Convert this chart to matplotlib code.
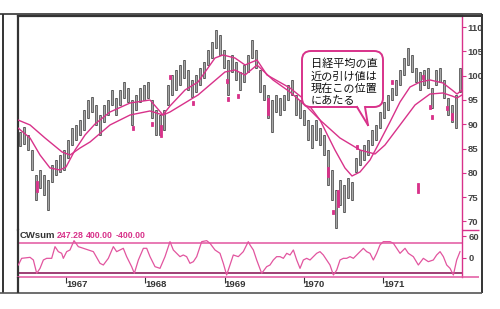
import numpy as np
import matplotlib
matplotlib.use("Agg")
import matplotlib.pyplot as plt
from matplotlib.patches import FancyBboxPatch, Polygon
from matplotlib.lines import Line2D

# ---------------- data ----------------
bar_lows = [85.5, 86.0, 84.7, 80.6, 74.4, 76.9, 75.5, 72.3, 78.1, 79.6,
            80.2, 80.6, 83.1, 85.7, 86.8, 87.8, 88.8, 91.3, 92.5, 89.9,
            87.8, 90.5, 91.9, 94.0, 91.9, 94.0, 95.4, 94.6, 89.9, 92.9,
            94.6, 95.0, 95.4, 91.3, 87.8, 87.8, 88.8, 94.0, 96.0, 97.1,
            98.1, 99.5, 97.1, 95.6, 96.6, 98.1, 99.5, 102.2, 103.6, 105.7,
            104.3, 101.6, 96.0, 100.8, 99.1, 97.1, 98.7, 100.8, 103.6, 101.6,
            96.6, 95.0, 91.3, 88.4, 92.5, 91.9, 92.9, 95.0, 96.0, 91.9,
            91.3, 89.9, 86.8, 85.1, 86.8, 85.7, 83.7, 77.5, 74.4, 68.6,
            73.4, 71.9, 74.8, 74.4, 80.2, 81.6, 82.7, 83.7, 85.7, 86.8,
            89.2, 91.3, 92.9, 95.0, 96.0, 98.1, 100.1, 102.2, 100.8, 98.7,
            97.1, 98.1, 97.5, 93.4, 98.1, 98.7, 95.4, 91.9, 90.5, 89.2,
            96.6]
bar_highs = [88.5, 89.5, 87.8, 84.7, 79.6, 80.6, 79.6, 78.5, 81.6, 82.7,
             83.7, 84.7, 86.8, 89.2, 89.9, 90.9, 92.9, 95.0, 95.6, 94.0,
             91.9, 94.0, 95.0, 97.1, 95.4, 97.1, 98.7, 97.5, 95.0, 96.0,
             97.5, 98.1, 98.7, 95.0, 92.9, 91.9, 92.9, 98.1, 100.1, 101.2,
             102.2, 103.2, 101.2, 99.1, 100.1, 101.6, 102.8, 105.3, 106.9, 109.4,
             108.4, 105.3, 103.2, 104.3, 102.8, 100.8, 102.2, 104.3, 107.4, 105.3,
             101.2, 98.1, 96.0, 95.0, 96.0, 95.4, 96.0, 98.1, 99.1, 96.0,
             95.0, 92.9, 90.9, 89.9, 90.9, 89.2, 87.8, 84.7, 80.6, 76.5,
             78.5, 77.5, 79.0, 78.1, 83.1, 84.7, 85.7, 86.8, 88.8, 89.9,
             92.5, 94.6, 96.0, 97.5, 99.1, 101.2, 103.6, 105.7, 104.3, 101.6,
             100.8, 101.2, 101.6, 97.5, 101.2, 101.6, 99.1, 95.4, 94.0, 96.0,
             101.6]
bar_first_year, bar_last_year = 1966.42, 1971.97

fast_years = [1966.394, 1966.546, 1966.672, 1966.798, 1966.924, 1967.000, 1967.114,
              1967.240, 1967.366, 1967.555, 1967.808, 1968.060, 1968.148, 1968.224,
              1968.312, 1968.502, 1968.666, 1968.880, 1968.981, 1969.132, 1969.259,
              1969.410, 1969.536, 1969.826, 1970.016, 1970.205, 1970.394, 1970.520,
              1970.609, 1970.710, 1970.836, 1970.937, 1971.088, 1971.215, 1971.341,
              1971.467, 1971.593, 1971.757, 1971.871, 1971.934, 1971.997]
fast_vals = [89.24, 87.18, 83.68, 81.01, 80.60, 81.21, 84.71, 87.80, 90.06, 92.53,
             94.38, 95.00, 93.35, 91.91, 93.77, 97.06, 98.70, 103.64, 104.26, 103.64,
             102.20, 103.23, 100.14, 97.47, 95.00, 90.88, 84.71, 81.01, 79.36, 80.19,
             82.65, 85.74, 90.47, 94.59, 97.67, 98.70, 99.12, 98.50, 97.06, 96.23,
             97.06]
slow_years = [1966.394, 1966.546, 1966.735, 1966.950, 1967.050, 1967.177, 1967.303,
              1967.555, 1967.808, 1968.060, 1968.224, 1968.312, 1968.666, 1969.006,
              1969.132, 1969.259, 1969.410, 1969.612, 1969.826, 1970.016, 1970.205,
              1970.457, 1970.710, 1970.899, 1971.025, 1971.215, 1971.404, 1971.593,
              1971.757, 1971.871, 1971.934, 1971.997]
slow_vals = [90.88, 89.86, 87.18, 84.30, 83.68, 85.12, 86.36, 89.86, 91.91, 92.74,
             91.91, 92.53, 96.03, 100.76, 101.17, 100.14, 102.20, 99.12, 96.65, 93.97,
             90.88, 87.18, 84.71, 83.89, 85.74, 89.86, 93.97, 96.23, 96.44, 95.82,
             95.41, 96.03]

sig_years = [1966.634, 1967.845, 1968.085, 1968.199, 1968.312, 1968.602, 1969.032,
             1969.044, 1969.170, 1969.549, 1970.306, 1970.369, 1970.432, 1970.672,
             1971.114, 1971.442, 1971.505, 1971.593, 1971.618, 1971.808, 1971.871]
sig_lows = [76.0, 88.8, 89.7, 87.4, 99.3, 94.0, 98.5, 94.8, 95.4, 91.9, 79.2, 71.6,
            73.0, 84.9, 98.3, 75.9, 99.3, 93.2, 91.1, 93.0, 90.9]
sig_highs = [78.3, 89.6, 90.5, 89.9, 100.1, 94.8, 99.3, 95.6, 96.2, 95.4, 81.2, 72.4,
             76.5, 85.7, 99.1, 77.9, 100.1, 94.0, 91.9, 93.8, 92.3]

osc_years = [1966.398, 1966.440, 1966.546, 1966.588, 1966.630, 1966.672, 1966.714,
             1966.756, 1966.819, 1966.861, 1966.903, 1966.945, 1966.966, 1967.008,
             1967.050, 1967.101, 1967.155, 1967.219, 1967.282, 1967.345, 1967.429,
             1967.471, 1967.534, 1967.597, 1967.639, 1967.681, 1967.723, 1967.765,
             1967.828, 1967.862, 1967.913, 1967.976, 1968.018, 1968.060, 1968.123,
             1968.186, 1968.249, 1968.312, 1968.354, 1968.396, 1968.438, 1968.480,
             1968.522, 1968.564, 1968.607, 1968.649, 1968.712, 1968.775, 1968.817,
             1968.880, 1968.943, 1968.985, 1969.027, 1969.069, 1969.111, 1969.174,
             1969.237, 1969.300, 1969.322, 1969.364, 1969.406, 1969.469, 1969.532,
             1969.574, 1969.616, 1969.658, 1969.701, 1969.743, 1969.785, 1969.827,
             1969.869, 1969.911, 1969.953, 1969.995, 1970.037, 1970.079, 1970.163,
             1970.205, 1970.247, 1970.331, 1970.374, 1970.416, 1970.458, 1970.500,
             1970.542, 1970.584, 1970.626, 1970.668, 1970.710, 1970.752, 1970.794,
             1970.836, 1970.878, 1970.920, 1970.962, 1971.004, 1971.089, 1971.131,
             1971.173, 1971.215, 1971.278, 1971.320, 1971.383, 1971.446, 1971.509,
             1971.572, 1971.635, 1971.677, 1971.720, 1971.762, 1971.804, 1971.846,
             1971.888, 1971.930, 1971.972]
osc_vals = [-193, -9, 18, -55, -423, -285, -55, -9, -9, 313, 175, 129, -9, 175,
            221, 478, 313, 267, 221, 175, -147, -193, -9, 313, 175, 221, 267, 37,
            -239, -423, -55, 267, 267, 37, -239, -285, 37, 451, 221, 129, 37, 83,
            37, -147, -101, 37, 451, 478, 405, 221, 129, -147, -469, -193, 83, 37,
            175, 451, 359, 221, -55, -423, -239, -193, -55, 37, 37, -9, 129, 83,
            221, -55, -285, -55, -9, -55, 129, 175, 83, -193, -469, -331, -55, -9,
            -9, 37, -9, 83, 175, 267, 175, 129, -55, 129, 359, 451, 451, 405,
            267, 129, 267, 129, 37, -193, -9, -101, -55, 83, 175, 37, -193, -285,
            -469, -55, 175]
osc_levels = [400, -400]

price_ticks = [70, 75, 80, 85, 90, 95, 100, 105, 110]
osc_ticks = [600, 0]
osc_tick_labels = ["60", "0"]
year_ticks = [1967, 1968, 1969, 1970, 1971]
cw_texts = ["CWsum", "247.28", "400.00", "-400.00"]
callout_lines = ["日経平均の直", "近の引け値は", "現在この位置", "にあたる"]
callout_target = (1970.81, 89.85)

# ---------------- styling ----------------
PINK = "#d8328a"
PINK_L = "#e2559f"
DARK_PINK = "#8c1f5c"
DARK = "#333333"
NUMFONT = ["Liberation Sans", "DejaVu Sans"]
W, H = 500, 309

fig = plt.figure(figsize=(W / 100, H / 100), dpi=100)
fig.patch.set_facecolor("white")


def fx(px):
    return px / W


def fy(py):
    return 1 - py / H


ax = fig.add_axes([fx(18), fy(230), fx(462) - fx(18), fy(16) - fy(230)])
ax2 = fig.add_axes([fx(18), fy(277), fx(462) - fx(18), fy(230) - fy(277)])

xmin, xmax = 1966.394, 1971.997
for a in (ax, ax2):
    a.set_xlim(xmin, xmax)
    a.set_facecolor("white")
ax.set_ylim(68.25, 112.28)
ax2.set_ylim(-524, 772)

# price bars: thin wick plus narrow gray body
lows = np.array(bar_lows)
highs = np.array(bar_highs)
bar_years = np.linspace(bar_first_year, bar_last_year, len(lows))
ax.vlines(bar_years, lows, highs, color="#3a3a3a", lw=0.7, zorder=2)
ax.bar(bar_years, highs - lows, bottom=lows, width=0.022, color="#a6a6a6",
       edgecolor="#2e2e2e", linewidth=0.45, zorder=2)

# signal markers
sl = np.array(sig_lows)
sh = np.array(sig_highs)
ax.bar(sig_years, sh - sl, bottom=sl, width=0.032, color=PINK,
       edgecolor=PINK, linewidth=0.6, zorder=3)

# moving averages
ax.plot(fast_years, fast_vals, color=PINK, lw=1.0, zorder=4)
ax.plot(slow_years, slow_vals, color=PINK, lw=1.0, zorder=4)

# oscillator
ax2.plot(osc_years, osc_vals, color=PINK_L, lw=0.9, zorder=3)
ax2.axhline(osc_levels[0], color=PINK_L, lw=1.1, zorder=2)
ax2.axhline(osc_levels[1], color=DARK_PINK, lw=1.2, zorder=2)

# spines
for a in (ax, ax2):
    a.spines["left"].set_color(DARK)
    a.spines["left"].set_linewidth(1.6)
    a.spines["right"].set_color(PINK)
    a.spines["right"].set_linewidth(1.0)
ax.spines["top"].set_color(DARK)
ax.spines["top"].set_linewidth(1.6)
ax.spines["bottom"].set_visible(False)
ax2.spines["top"].set_visible(False)
ax2.spines["bottom"].set_color(PINK_L)
ax2.spines["bottom"].set_linewidth(1.1)

# price axis ticks (right)
ax.yaxis.tick_right()
ax.set_yticks(price_ticks)
ax.set_yticklabels([str(t) for t in price_ticks])
ax.tick_params(axis="y", direction="out", length=3, width=0.8, color=PINK,
               labelsize=6.8, labelcolor="#444444", pad=1)
ax.tick_params(axis="x", bottom=False, labelbottom=False)
for lbl in ax.get_yticklabels():
    lbl.set_fontweight("bold")
    lbl.set_family(NUMFONT)

ax2.yaxis.tick_right()
ax2.set_yticks(osc_ticks)
ax2.set_yticklabels(osc_tick_labels)
ax2.tick_params(axis="y", direction="out", length=3, width=0.8, color=PINK,
                labelsize=6.8, labelcolor="#444444", pad=2)
for lbl in ax2.get_yticklabels():
    lbl.set_fontweight("bold")
    lbl.set_family(NUMFONT)

ax2.set_xticks(year_ticks)
ax2.set_xticklabels([str(y) for y in year_ticks])
ax2.tick_params(axis="x", direction="out", length=4.5, width=0.8, color=DARK,
                labelsize=6.8, labelcolor=DARK, pad=-2)
for lbl in ax2.get_xticklabels():
    lbl.set_fontweight("bold")
    lbl.set_family(NUMFONT)
    lbl.set_horizontalalignment("left")

# CWsum labels
cw_x = [20, 57, 86, 116]
cw_colors = [DARK, PINK, PINK, PINK]
cw_sizes = [6.8, 6.3, 6.3, 6.3]
for t, px, c, s in zip(cw_texts, cw_x, cw_colors, cw_sizes):
    fig.text(fx(px), fy(236), t, color=c, fontsize=s, fontweight="bold",
             family=NUMFONT, ha="left", va="center")

# frame lines
def fline(x0, y0, x1, y1, color=DARK, lw=1.2):
    fig.add_artist(Line2D([fx(x0), fx(x1)], [fy(y0), fy(y1)], color=color,
                          lw=lw, transform=fig.transFigure, solid_capstyle="butt"))

fline(0, 14, 482, 14, lw=1.2)
fline(462, 16, 481, 16, lw=1.4)
fline(3, 14, 3, 293, lw=1.4)
fline(481.5, 14, 481.5, 293, lw=1.4)
fline(0, 293, 482, 293, color="#555555", lw=1.2)
fline(18, 277, 18, 293, lw=1.6)
fline(462, 230, 479, 230, color=PINK, lw=1.0)
fline(462, 277, 479, 277, color=PINK_L, lw=1.1)

# callout bubble (in inches)
def inch(px, py):
    return (px / 100.0, (H - py) / 100.0)

bx0, by0 = inch(302, 107)
bx1, by1 = inch(383, 51)
box = FancyBboxPatch((bx0, by0), bx1 - bx0, by1 - by0,
                     boxstyle="round,pad=0,rounding_size=0.09",
                     transform=fig.dpi_scale_trans, fc="white", ec=PINK,
                     lw=1.4, zorder=10)
fig.add_artist(box)

tip_disp = ax.transData.transform(callout_target)
tip = fig.dpi_scale_trans.inverted().transform(tip_disp)
b_left = inch(357, 107)
b_right = inch(365, 107)
tail = Polygon([(b_left[0], b_left[1] + 0.02), (b_right[0], b_right[1] + 0.02),
                tuple(tip)], closed=True, transform=fig.dpi_scale_trans,
               fc="white", ec="none", zorder=11)
fig.add_artist(tail)
for b in (b_left, b_right):
    fig.add_artist(Line2D([b[0], tip[0]], [b[1], tip[1]], color=PINK, lw=1.4,
                          transform=fig.dpi_scale_trans, zorder=12))

line_y = [64, 77, 89, 101]
for t, py in zip(callout_lines, line_y):
    fig.text(fx(311), fy(py), t, fontsize=8,
             family=["Noto Sans CJK JP", "DejaVu Sans"], color="#111111",
             ha="left", va="center", zorder=13)

fig.savefig("out.png", dpi=100, facecolor="white")
